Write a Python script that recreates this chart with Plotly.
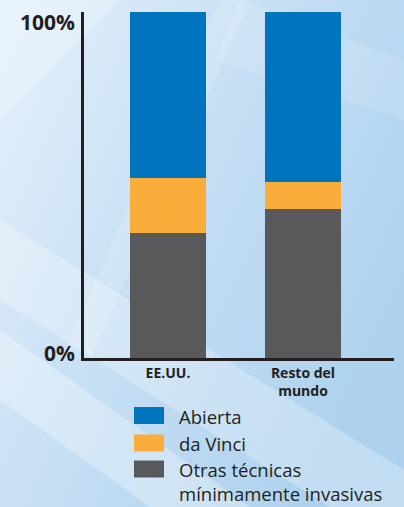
import plotly.graph_objects as go
import urllib.parse

# ---- data ----
categories = ["EE.UU.", "Resto del<br>mundo"]
series_names = ["Otras técnicas<br>mínimamente invasivas", "da Vinci", "Abierta"]
otras = [36, 43]
davinci = [16, 8]
abierta = [48, 49]
series_values = [otras, davinci, abierta]
colors = ["#58595B", "#FBAD3C", "#0075BE"]
y_ticks = [0, 100]
y_ticktext = ["0%", "100%"]

W, H = 404, 507
L, R, T, B = 84, 10, 12, 149
PW, PH = W - L - R, H - T - B

def px_x(p):
    return (p - L) / PW

def px_y(p):
    return (H - B - p) / PH

fig = go.Figure()
for name, vals, col in zip(series_names, series_values, colors):
    fig.add_trace(go.Bar(x=[0, 1], y=vals, name=name, marker=dict(color=col, line=dict(width=0)),
                         width=0.563, showlegend=False, hoverinfo="skip"))

# background svg (gradient + soft light streaks)
svg = f'''<svg xmlns="http://www.w3.org/2000/svg" width="{W}" height="{H}" viewBox="0 0 {W} {H}">
<defs><linearGradient id="g" x1="0" y1="0" x2="1" y2="0.6">
<stop offset="0" stop-color="#E6F1FB"/><stop offset="0.5" stop-color="#C6DFF4"/><stop offset="1" stop-color="#AED2EE"/></linearGradient></defs>
<rect width="{W}" height="{H}" fill="url(#g)"/>
<polygon points="0,220 404,470 404,507 330,507 0,300" fill="#FFFFFF" fill-opacity="0.25"/>
<polygon points="0,330 250,507 150,507 0,400" fill="#FFFFFF" fill-opacity="0.3"/>
<polygon points="220,0 250,0 90,360 60,360" fill="#FFFFFF" fill-opacity="0.15"/>
<polygon points="240,0 404,60 404,120 215,60" fill="#FFFFFF" fill-opacity="0.12"/>
<polygon points="0,0 120,0 0,120" fill="#FFFFFF" fill-opacity="0.2"/>
</svg>'''
src = "data:image/svg+xml;charset=utf-8," + urllib.parse.quote(svg)
fig.add_layout_image(dict(source=src, xref="paper", yref="paper", x=px_x(0), y=px_y(0),
                          sizex=W / PW, sizey=H / PH, xanchor="left", yanchor="top",
                          sizing="stretch", layer="below"))

# y tick labels as annotations
for v, t, shift in zip(y_ticks, y_ticktext, [5, -10]):
    fig.add_annotation(x=0, xref="paper", y=v, yref="y", text=t, showarrow=False,
                       xanchor="right", yanchor="middle", xshift=-7, yshift=shift,
                       font=dict(family="Open Sans", size=21, color="#231F20", weight="bold"))

# legend (manual)
leg_items = [("Abierta", "#0075BE", 415.5), ("da Vinci", "#FBAD3C", 443), ("Otras técnicas<br>mínimamente invasivas", "#58595B", 469)]
for txt, col, cy in leg_items:
    fig.add_shape(type="rect", xref="paper", yref="paper", x0=px_x(134), x1=px_x(164),
                  y0=px_y(cy - 8.5), y1=px_y(cy + 8.5), fillcolor=col, line=dict(width=0))
    fig.add_annotation(x=px_x(177), xref="paper", y=px_y(cy), yref="paper", text=txt,
                       showarrow=False, xanchor="left", yanchor="top", yshift=14, align="left",
                       font=dict(family="Open Sans", size=18.5, color="#231F20"))

fig.update_layout(
    width=W, height=H, margin=dict(l=L, r=R, t=T, b=B),
    barmode="stack", bargap=0,
    paper_bgcolor="#C8E0F4", plot_bgcolor="rgba(0,0,0,0)",
    xaxis=dict(range=[-0.622, 1.674], tickvals=[0, 1], ticktext=categories,
               showline=True, linecolor="#231F20", linewidth=2.5, showgrid=False, zeroline=False,
               ticks="", tickfont=dict(family="Open Sans", size=14, color="#231F20", weight="bold"),
               fixedrange=True),
    yaxis=dict(range=[0, 100], showticklabels=False, showline=True, linecolor="#231F20",
               linewidth=2.5, showgrid=False, zeroline=False, ticks="", fixedrange=True),
    showlegend=False,
)
fig.write_html("out.html", config={"displayModeBar": False},
               post_script="document.body.style.margin='0';document.body.style.overflow='hidden';")
